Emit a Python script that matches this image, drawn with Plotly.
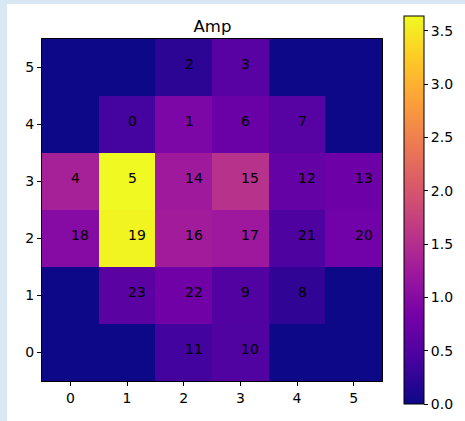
import plotly.graph_objects as go

# Grid coordinates
cols = [0, 1, 2, 3, 4, 5]
rows = [0, 1, 2, 3, 4, 5]

# Amplitude values, row 0 (bottom) to row 5 (top)
amp_row0 = [0.0, 0.0, 0.38, 0.50, 0.0, 0.0]
amp_row1 = [0.0, 0.60, 0.78, 0.51, 0.25, 0.0]
amp_row2 = [0.99, 3.60, 1.27, 1.23, 0.48, 0.80]
amp_row3 = [1.33, 3.64, 1.24, 1.55, 0.69, 0.76]
amp_row4 = [0.0, 0.40, 0.91, 0.73, 0.56, 0.0]
amp_row5 = [0.0, 0.0, 0.22, 0.58, 0.0, 0.0]

# Channel labels per cell (None = no label)
lab_row0 = [None, None, 11, 10, None, None]
lab_row1 = [None, 23, 22, 9, 8, None]
lab_row2 = [18, 19, 16, 17, 21, 20]
lab_row3 = [4, 5, 14, 15, 12, 13]
lab_row4 = [None, 0, 1, 6, 7, None]
lab_row5 = [None, None, 2, 3, None, None]

z = [amp_row0, amp_row1, amp_row2, amp_row3, amp_row4, amp_row5]
labels = [lab_row0, lab_row1, lab_row2, lab_row3, lab_row4, lab_row5]

cbar_ticks = [0.0, 0.5, 1.0, 1.5, 2.0, 2.5, 3.0, 3.5]
zmax = max(max(r) for r in z)

W, H = 465, 421
L, R, T, B = 42, 82, 39, 40
pw, ph = W - L - R, H - T - B

font = "DejaVu Sans"
fs = 14

fig = go.Figure()
fig.add_trace(go.Heatmap(
    x=cols, y=rows, z=z,
    colorscale="Plasma", zmin=0, zmax=zmax,
    hoverinfo="z",
    colorbar=dict(
        thickness=20, thicknessmode="pixels",
        len=388, lenmode="pixels",
        x=(404 - L) / pw, xanchor="left", xpad=0,
        y=(H - B - 210) / ph, yanchor="middle", ypad=0,
        outlinecolor="black", outlinewidth=1,
        tickvals=cbar_ticks, ticktext=[f"{v:.1f}" for v in cbar_ticks],
        ticks="outside", ticklen=4, tickcolor="black",
        tickfont=dict(family=font, size=fs, color="black"),
    ),
))

ann = []
for r_i, row in enumerate(labels):
    for c_i, lab in enumerate(row):
        if lab is None:
            continue
        ann.append(dict(
            x=cols[c_i], y=rows[r_i], xref="x", yref="y",
            text=str(lab), showarrow=False,
            xanchor="left", yanchor="middle", xshift=-1, yshift=4,
            font=dict(family=font, size=fs, color="black"),
        ))

fig.update_layout(
    width=W, height=H,
    margin=dict(l=L, r=R, t=T, b=B, pad=0),
    paper_bgcolor="#d9e8f5",
    plot_bgcolor="white",
    font=dict(family=font, size=fs, color="black"),
    title=dict(text="Amp", x=(L + pw / 2) / W, xanchor="center",
               y=1 - 26 / H, yanchor="middle",
               font=dict(family=font, size=16.5, color="black")),
    annotations=ann,
    shapes=[dict(type="rect", xref="paper", yref="paper",
                 x0=(7 - L) / pw, x1=(W + 5 - L) / pw,
                 y0=(H - B - (H + 5)) / ph, y1=(H - B - 4) / ph,
                 fillcolor="white", line=dict(width=0), layer="below")],
)
axis_common = dict(
    range=[-0.5, 5.5], tickvals=cols, showgrid=False, zeroline=False,
    showline=True, linecolor="black", linewidth=1, mirror=True,
    ticks="outside", ticklen=4, tickcolor="black",
    tickfont=dict(family=font, size=fs, color="black"),
)
fig.update_xaxes(**axis_common)
fig.update_yaxes(**axis_common)

fig.write_html(
    "out.html",
    config={"displayModeBar": False},
    post_script="document.body.style.margin='0px';document.body.style.background='#d9e8f5';",
)
